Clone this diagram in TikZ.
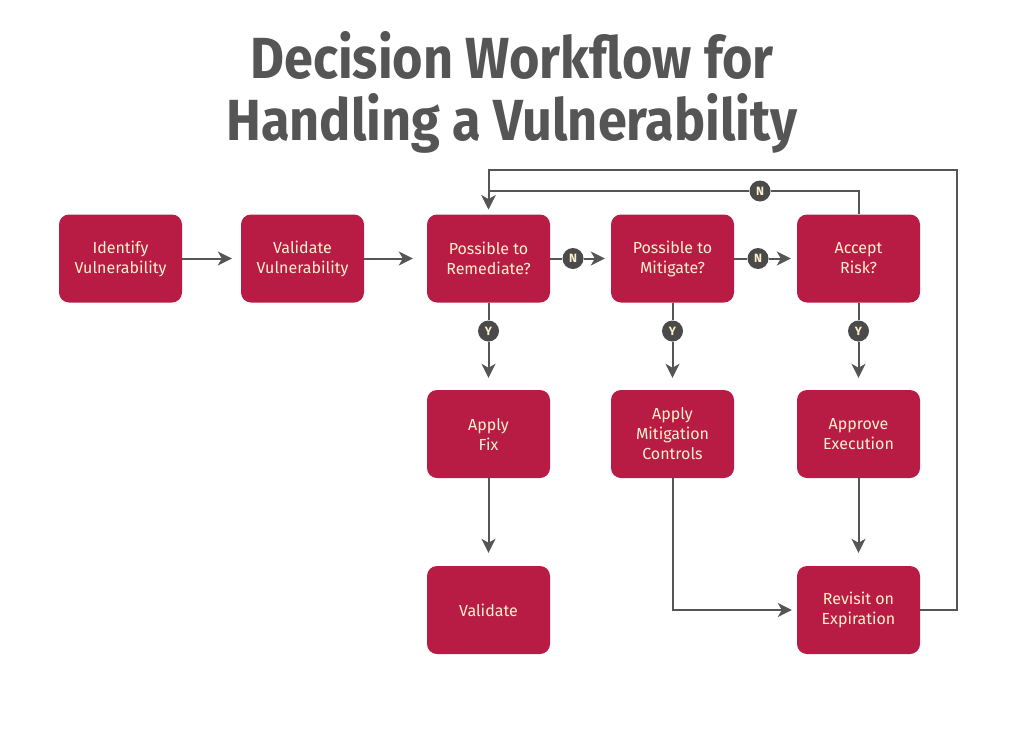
\documentclass[tikz,border=0pt]{standalone}
\usepackage{fontspec}
\setmainfont{Fira Sans}
\newfontfamily\titlefont{Fira Sans}
\usetikzlibrary{arrows.meta}
\definecolor{boxred}{HTML}{B81C45}
\definecolor{cream}{HTML}{FFF0CC}
\definecolor{linegray}{HTML}{555555}
\definecolor{circgray}{HTML}{4A4A4A}
\definecolor{titlegray}{HTML}{555555}
\tikzset{
  stepbox/.style={rectangle, rounded corners=10pt, fill=boxred, minimum width=123pt, minimum height=88pt, inner sep=2pt, text=cream, align=center, font=\fontsize{16}{20}\selectfont},
  yn/.style={circle, fill=circgray, minimum size=21pt, inner sep=0pt, text=cream, font=\fontsize{12}{12}\selectfont\bfseries},
  conn/.style={draw=linegray, line width=2pt},
  arr/.style={conn, -{Stealth[length=14pt,width=14pt,inset=4pt]}, shorten >=#1},
  arr/.default=10pt,
  titletext/.style={anchor=base, text=titlegray, font=\titlefont\fontsize{58}{62}\selectfont\bfseries},
}
\begin{document}
\begin{tikzpicture}[x=1pt,y=-1pt]
\useasboundingbox (0,0) rectangle (1024,744);
\node[titletext] (title1) at (512,78) {\scalebox{0.9}[1]{Decision Workflow for}};
\node[titletext] (title2) at (512,140) {\scalebox{0.9}[1]{Handling a Vulnerability}};

\node[stepbox] (ident) at (120.5,258.5) {Identify\\Vulnerability};
\node[stepbox] (valv) at (302.5,258.5) {Validate\\Vulnerability};
\node[stepbox] (rem) at (488.5,258.5) {Possible to\\Remediate?};
\node[stepbox] (mit) at (672.5,258.5) {Possible to\\Mitigate?};
\node[stepbox] (acc) at (858.5,258.5) {Accept\\Risk?};
\node[stepbox] (fix) at (488.5,434) {Apply\\Fix};
\node[stepbox] (amc) at (672.5,434) {Apply\\Mitigation\\Controls};
\node[stepbox] (appr) at (858.5,434) {Approve\\Execution};
\node[stepbox] (val) at (488.5,610) {Validate};
\node[stepbox] (rev) at (858.5,610) {Revisit on\\Expiration};

\node[yn] (n1) at (573,258.5) {N};
\node[yn] (n2) at (758,258.5) {N};
\node[yn] (n3) at (760,191) {N};
\node[yn] (y1) at (488.5,331) {Y};
\node[yn] (y2) at (672.5,331) {Y};
\node[yn] (y3) at (858.5,331) {Y};

\coordinate (outer) at (957,170);

\draw[arr=9pt] (ident) -- (valv);
\draw[arr=14pt] (valv) -- (rem);
\draw[conn] (rem.east) -- (n1.west);
\draw[arr=6pt] (n1.east) -- (mit.west);
\draw[conn] (mit.east) -- (n2.west);
\draw[arr=6pt] (n2.east) -- (acc.west);

\draw[conn] (rem.south) -- (y1.north);
\draw[arr=12pt] (y1.south) -- (fix.north);
\draw[conn] (mit.south) -- (y2.north);
\draw[arr=12pt] (y2.south) -- (amc.north);
\draw[conn] (acc.south) -- (y3.north);
\draw[arr=12pt] (y3.south) -- (appr.north);

\draw[arr=13pt] (fix) -- (val);
\draw[arr=13pt] (appr) -- (rev);
\draw[arr=5pt] (amc.south) |- (rev.west);

\draw[conn] (acc.north) |- (n3.east);
\draw[arr=5pt] (n3.west) -| (rem.north);
\draw[arr=5pt] (rev.east) -| (outer) -| (rem.north);
\end{tikzpicture}
\end{document}
